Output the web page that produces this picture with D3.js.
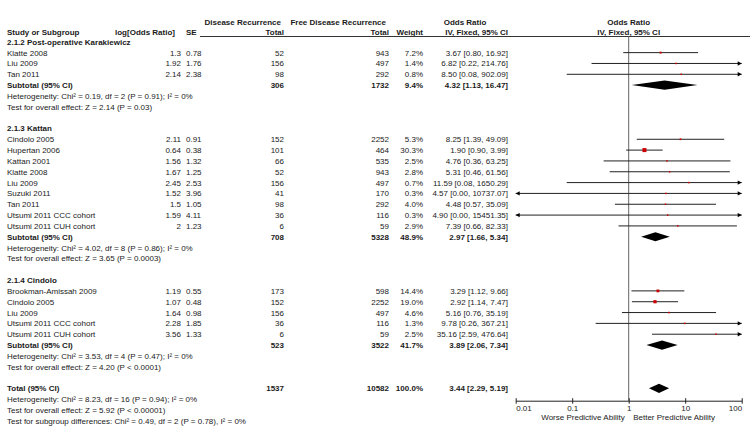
<!DOCTYPE html>
<html>
<head>
<meta charset="utf-8">
<script src="https://cdn.jsdelivr.net/npm/d3@7"></script>
<style>
  body { margin: 0; background: #fff; }
  text { font-family: "Liberation Sans", Arial, sans-serif; font-size: 8px; fill: #1a1a1a; }
  .b { font-weight: bold; }
</style>
</head>
<body>
<div id="forest"></div>
<script>
// subgroups
var sections = ["2.1.2 Post-operative Karakiewicz", "2.1.3 Kattan", "2.1.4 Cindolo"];

// studies (one entry per study row)
var studyNames = ["Klatte 2008", "Liu 2009", "Tan 2011",
  "Cindolo 2005", "Hupertan 2006", "Kattan 2001", "Klatte 2008", "Liu 2009", "Suzuki 2011", "Tan 2011", "Utsumi 2011 CCC cohort", "Utsumi 2011 CUH cohort",
  "Brookman-Amissah 2009", "Cindolo 2005", "Liu 2009", "Utsumi 2011 CCC cohort", "Utsumi 2011 CUH cohort"];
var studySection = [0, 0, 0, 1, 1, 1, 1, 1, 1, 1, 1, 1, 2, 2, 2, 2, 2];
var logOR = ["1.3", "1.92", "2.14", "2.11", "0.64", "1.56", "1.67", "2.45", "1.52", "1.5", "1.59", "2", "1.19", "1.07", "1.64", "2.28", "3.56"];
var seVals = ["0.78", "1.76", "2.38", "0.91", "0.38", "1.32", "1.25", "2.53", "3.96", "1.05", "4.11", "1.23", "0.55", "0.48", "0.98", "1.85", "1.33"];
var recTotal = [52, 156, 98, 152, 101, 66, 52, 156, 41, 98, 36, 6, 173, 152, 156, 36, 6];
var freeTotal = [943, 497, 292, 2252, 464, 535, 943, 497, 170, 292, 116, 59, 598, 2252, 497, 116, 59];
var weights = [7.2, 1.4, 0.8, 5.3, 30.3, 2.5, 2.8, 0.7, 0.3, 4.0, 0.3, 2.9, 14.4, 19.0, 4.6, 1.3, 2.5];
var orVals = [3.67, 6.82, 8.50, 8.25, 1.90, 4.76, 5.31, 11.59, 4.57, 4.48, 4.90, 7.39, 3.29, 2.92, 5.16, 9.78, 35.16];
var ciLow = [0.80, 0.22, 0.08, 1.39, 0.90, 0.36, 0.46, 0.08, 0.00, 0.57, 0.00, 0.66, 1.12, 1.14, 0.76, 0.26, 2.59];
var ciHigh = [16.92, 214.76, 902.09, 49.09, 3.99, 63.25, 61.56, 1650.29, 10737.07, 35.09, 15451.35, 82.33, 9.66, 7.47, 35.19, 367.21, 476.64];

// subtotals per section, then total
var subRec = [306, 708, 523], subFree = [1732, 5328, 3522], subWeight = [9.4, 48.9, 41.7];
var subOR = [4.32, 2.97, 3.89], subLow = [1.13, 1.66, 2.06], subHigh = [16.47, 5.34, 7.34];
var subHet = ["Heterogeneity: Chi\u00b2 = 0.19, df = 2 (P = 0.91); I\u00b2 = 0%",
  "Heterogeneity: Chi\u00b2 = 4.02, df = 8 (P = 0.86); I\u00b2 = 0%",
  "Heterogeneity: Chi\u00b2 = 3.53, df = 4 (P = 0.47); I\u00b2 = 0%"];
var subTest = ["Test for overall effect: Z = 2.14 (P = 0.03)",
  "Test for overall effect: Z = 3.65 (P = 0.0003)",
  "Test for overall effect: Z = 4.20 (P < 0.0001)"];
var totRec = 1537, totFree = 10582, totWeight = 100.0, totOR = 3.44, totLow = 2.29, totHigh = 5.19;
var totNotes = ["Heterogeneity: Chi\u00b2 = 8.23, df = 16 (P = 0.94); I\u00b2 = 0%",
  "Test for overall effect: Z = 5.92 (P < 0.00001)",
  "Test for subgroup differences: Chi\u00b2 = 0.49, df = 2 (P = 0.78), I\u00b2 = 0%"];

// axis
var tickVals = [0.01, 0.1, 1, 10, 100];
var tickLabels = ["0.01", "0.1", "1", "10", "100"];

var width = 750, height = 445;
var svg = d3.select("#forest").append("svg")
  .attr("width", width).attr("height", height);

var x = d3.scaleLog().domain([0.01, 100]).range([515.7, 741.7]);

// row centres
var rowY = function(i) { return 41.8 + (i - 2) * 10.83; };

function txt(xp, yc, s, anchor, bold) {
  svg.append("text")
    .attr("x", xp).attr("y", yc + 3)
    .attr("text-anchor", anchor || "start")
    .attr("class", bold ? "b" : null)
    .text(s);
}
function fmt2(v) { return d3.format(".2f")(v); }
function ciText(o, l, h) { return fmt2(o) + " [" + fmt2(l) + ", " + fmt2(h) + "]"; }

// header
txt(281, 21.5, "Disease Recurrence", "end", true);
txt(386, 21.5, "Free Disease Recurrence", "end", true);
txt(465, 21.5, "Odds Ratio", "middle", true);
txt(x(1), 21.5, "Odds Ratio", "middle", true);
txt(7, 31.7, "Study or Subgroup", "start", true);
txt(175, 31.7, "log[Odds Ratio]", "end", true);
txt(186, 31.7, "SE", "start", true);
txt(284, 31.7, "Total", "end", true);
txt(389, 31.7, "Total", "end", true);
txt(423, 31.7, "Weight", "end", true);
txt(508, 31.7, "IV, Fixed, 95% CI", "end", true);
txt(x(1), 31.7, "IV, Fixed, 95% CI", "middle", true);

svg.append("line")
  .attr("x1", 200).attr("x2", 750).attr("y1", 36.5).attr("y2", 36.5)
  .attr("stroke", "#333").attr("stroke-width", 1);

// line of no effect
svg.append("line")
  .attr("x1", x(1)).attr("x2", x(1)).attr("y1", 36.5).attr("y2", 400.7)
  .attr("stroke", "#666").attr("stroke-width", 1);

function diamond(yc, o, l, h) {
  var hh = 4.6;
  svg.append("path")
    .attr("d", "M" + x(l) + "," + yc + "L" + x(o) + "," + (yc - hh) + "L" + x(h) + "," + yc + "L" + x(o) + "," + (yc + hh) + "Z")
    .attr("fill", "#000");
}

function arrow(xp, yc, dir) {
  svg.append("path")
    .attr("d", "M" + xp + "," + yc + "L" + (xp - dir * 4) + "," + (yc - 2.2) + "L" + (xp - dir * 4) + "," + (yc + 2.2) + "Z")
    .attr("fill", "#000");
}

var row = 2;
sections.forEach(function(sec, s) {
  txt(7, rowY(row), sec, "start", true);
  row++;
  studyNames.forEach(function(name, i) {
    if (studySection[i] !== s) return;
    var yc = rowY(row);
    txt(7, yc, name);
    txt(181, yc, logOR[i], "end");
    txt(186, yc, seVals[i], "start");
    txt(284, yc, recTotal[i], "end");
    txt(389, yc, freeTotal[i], "end");
    txt(423, yc, weights[i].toFixed(1) + "%", "end");
    txt(508, yc, ciText(orVals[i], ciLow[i], ciHigh[i]), "end");

    var lo = ciLow[i] < 0.01 ? 0.01 : ciLow[i];
    var hi = ciHigh[i] > 100 ? 100 : ciHigh[i];
    svg.append("line")
      .attr("x1", x(lo)).attr("x2", x(hi)).attr("y1", yc).attr("y2", yc)
      .attr("stroke", "#222").attr("stroke-width", 1);
    if (ciLow[i] < 0.01) arrow(x(0.01), yc, -1);
    if (ciHigh[i] > 100) arrow(x(100), yc, 1);
    var sz = Math.max(1.5, 0.73 * Math.sqrt(weights[i]));
    svg.append("rect")
      .attr("x", x(orVals[i]) - sz / 2).attr("y", yc - sz / 2)
      .attr("width", sz).attr("height", sz)
      .attr("fill", "#cc0000");
    row++;
  });
  var ys = rowY(row);
  txt(7, ys, "Subtotal (95% CI)", "start", true);
  txt(284, ys, subRec[s], "end", true);
  txt(389, ys, subFree[s], "end", true);
  txt(423, ys, subWeight[s].toFixed(1) + "%", "end", true);
  txt(508, ys, ciText(subOR[s], subLow[s], subHigh[s]), "end", true);
  diamond(ys, subOR[s], subLow[s], subHigh[s]);
  row++;
  txt(7, rowY(row), subHet[s]); row++;
  txt(7, rowY(row), subTest[s]); row++;
  row++; // blank
});

var yt = rowY(row);
txt(7, yt, "Total (95% CI)", "start", true);
txt(284, yt, totRec, "end", true);
txt(389, yt, totFree, "end", true);
txt(423, yt, totWeight.toFixed(1) + "%", "end", true);
txt(508, yt, ciText(totOR, totLow, totHigh), "end", true);
diamond(yt, totOR, totLow, totHigh);
row++;
totNotes.forEach(function(n) { txt(7, rowY(row), n); row++; });

// x axis
var axisY = 400.7;
var ax = svg.append("g")
  .attr("transform", "translate(0," + axisY + ")")
  .call(d3.axisBottom(x).tickValues(tickVals).tickSizeOuter(0)
    .tickFormat(function(d, i) { return tickLabels[i]; }));
ax.select(".domain").attr("stroke", "#222");
ax.selectAll(".tick line").attr("y1", -2.5).attr("y2", 3).attr("stroke", "#222");
ax.selectAll(".tick text")
  .attr("y", 5).attr("dy", "0.71em")
  .style("font-family", "'Liberation Sans', Arial, sans-serif").style("font-size", "8px")
  .attr("fill", "#1a1a1a")
  .attr("text-anchor", function(d, i) { return i === 0 ? "start" : (i === tickVals.length - 1 ? "end" : "middle"); });

txt(x(1) - 4, 416.5, "Worse Predictive Ability", "end");
txt(x(1) + 4.5, 416.5, "Better Predictive Ability", "start");
</script>
</body>
</html>
